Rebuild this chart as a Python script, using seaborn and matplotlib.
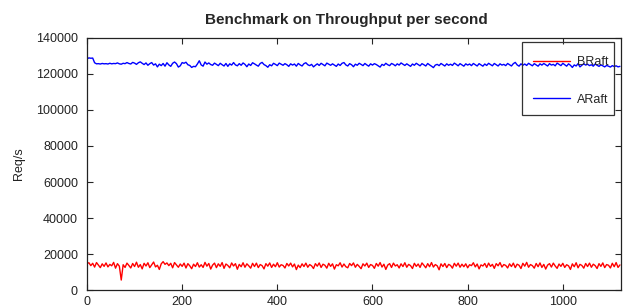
import matplotlib
matplotlib.use("Agg")
import matplotlib.pyplot as plt
from matplotlib.patches import Rectangle
import seaborn as sns
import pandas as pd
import numpy as np

STEP = 4
braft = [14800,15200,13600,14900,12800,15300,13900,12500,14600,13200,
15100,12900,14300,13500,15400,12200,14700,13300,5600,14100,
12600,15000,13700,12300,14800,13100,15500,12700,14200,11800,
14900,13400,15200,12500,14000,15600,12900,13800,11500,14600,
15800,14300,15100,13600,14900,12400,15300,14000,12700,14500,
13200,15000,12300,14700,13500,11900,14400,13100,15200,12800,
14100,12600,15400,13300,14800,11700,13900,15000,12500,14600,
13200,15300,12100,14500,13700,12400,15100,13400,14700,11600,
14300,13000,15200,12700,14600,13500,12200,14900,13100,15000,
12500,14200,13600,11800,14700,13300,15100,12600,14400,13000,
15200,12800,14100,13700,12300,14800,13400,15000,12900,14500,
11400,13900,12500,14600,13100,15000,12700,14200,13500,12000,
14700,13300,15100,12600,14400,13800,12200,14900,13200,14600,
11700,14100,13500,15200,12800,14500,13000,12400,14800,13600,
15100,12700,14300,13200,11900,14600,13400,15000,12600,14200,
13700,12100,14800,13300,15300,12800,14400,11500,13900,14700,
12600,15000,13400,14100,12300,14600,13100,15200,12700,14300,
13600,12000,14900,13200,14500,12600,15100,13800,12400,14700,
13000,15300,12800,14200,13500,11300,14600,13100,14800,12500,
14300,13700,12200,14900,13300,15000,12700,14400,13000,14600,
12400,14100,13600,15200,12900,14500,11800,14000,13400,14800,
12600,15000,13200,14300,12100,14700,13500,15300,12800,14200,
13700,12300,14600,13100,15000,12500,14400,13800,12000,14900,
13300,15400,12700,14200,13600,12200,14800,13000,15100,12600,
14300,11700,13900,14700,12800,15000,13400,12100,14500,13200,
14900,12600,14100,13500,11500,14600,13000,15200,12400,14300,
13700,12200,14800,13100,15000,12700,14400,13600,12000,14700,
13200,15100,12500,14200,13800,12300,14900,13000,15300,12600,
14000]

araft = [128400,128900,128700,128800,126200,125600,125700,125500,125800,125600,
125700,125500,125900,125600,125800,125700,126100,125600,125400,125900,
125700,126300,125800,125500,126400,126000,125300,126200,126700,125900,
125200,126100,124800,125700,126300,124900,125600,123900,125400,124600,
125800,124300,126200,125000,124200,125900,126600,125700,123800,124500,
126300,125900,126500,125100,124700,123600,124200,124000,125500,127300,
125000,124300,126600,125400,126100,125200,124800,126000,125300,124600,
125900,125100,124400,125800,124200,125600,124900,126300,125000,124500,
125700,124800,126100,125300,124000,125500,124700,126200,125600,124900,
124300,125800,126400,125200,124600,123700,125100,124500,125900,125300,
124600,126000,125400,124800,125700,125100,124200,125600,124900,125500,
124300,125800,125000,124400,125700,126200,125100,124600,125300,123900,
124800,125600,124700,125900,125200,124500,126000,125400,124800,125600,
124900,124200,125500,124700,125900,126300,125000,124400,125700,125100,
124000,125400,124800,125900,125300,124600,125800,125000,124300,125600,
124900,125700,125200,124500,123800,125300,124700,125900,125100,124600,
125800,125300,124500,125600,124900,126100,125400,124700,125600,124900,
124200,125500,124800,125900,125200,124500,125700,125100,124400,125800,
125000,124300,123500,124900,125300,124600,125800,125100,124400,125600,
124800,125400,124700,126000,125300,124500,125700,125000,124300,125600,
124900,125500,124600,125800,125100,124400,125700,125000,124300,125500,
124700,125900,125200,124500,125800,125100,124400,125600,124900,125300,
124600,125800,125100,124400,125700,126400,125000,124300,125600,124800,
125500,124700,125900,125200,124500,125700,125000,124300,125600,124900,
125800,125100,124400,125700,124900,125300,124500,126000,125300,124600,
125900,125100,124300,125600,124800,123600,125000,124400,125700,123900,
124800,125600,124900,125400,124600,125100,124300,125500,124800,124200,
125000,124500,123900,124700,124300,123800,124600,124100,124500,123900,
124200]

series_names = ["BRaft", "ARaft"]
series_colors = ["#ff0000", "#0000ff"]
x_ticks = [0, 200, 400, 600, 800, 1000]
y_ticks = [0, 20000, 40000, 60000, 80000, 100000, 120000, 140000]

t_b = [i * STEP for i in range(len(braft))]
t_a = [i * STEP for i in range(len(araft))]
df = pd.concat([
    pd.DataFrame({"t": t_b, "v": braft, "s": "BRaft"}),
    pd.DataFrame({"t": t_a, "v": araft, "s": "ARaft"}),
], ignore_index=True)

sns.set_style("ticks")
plt.rcParams["font.family"] = ["Liberation Sans", "DejaVu Sans"]

fig = plt.figure(figsize=(6.24, 3.08), dpi=100)
ax = fig.add_axes([0.1394, 0.058, 0.8556, 0.819])
sns.lineplot(data=df, x="t", y="v", hue="s", hue_order=series_names,
             palette=series_colors, linewidth=1.0, ax=ax, estimator=None)

ax.set_xlim(0, 1122)
ax.set_ylim(0, 140000)
ax.set_xticks(x_ticks)
ax.set_yticks(y_ticks)
ax.tick_params(direction="in", length=4, width=0.8, top=True, right=True,
               labelsize=9, labelcolor="#222222")
ax.tick_params(axis="y", pad=6.5)
ax.tick_params(axis="x", pad=4)
ax.set_xticklabels([str(v) for v in x_ticks])
ax.set_yticklabels([str(v) for v in y_ticks])
for sp in ax.spines.values():
    sp.set_visible(True)
    sp.set_linewidth(0.9)
    sp.set_color("#222222")
ax.set_xlabel("")
ax.set_ylabel("Req/s", fontsize=9, color="#222222", labelpad=8)
ax.set_title("Benchmark on Throughput per second", fontsize=11, fontweight="bold",
             pad=10, x=0.485)

leg = ax.legend(loc="upper right", frameon=False,
                fontsize=9, labelspacing=2.05,
                handlelength=2.9, handletextpad=0.55, borderpad=0.0,
                borderaxespad=0.0, bbox_to_anchor=(0.976, 0.928))
ax.add_patch(Rectangle((0.8146, 0.694), 0.1724, 0.290, transform=ax.transAxes,
                       fill=False, edgecolor="#333333", linewidth=0.9, zorder=5))

fig.savefig("out.png", dpi=100)
